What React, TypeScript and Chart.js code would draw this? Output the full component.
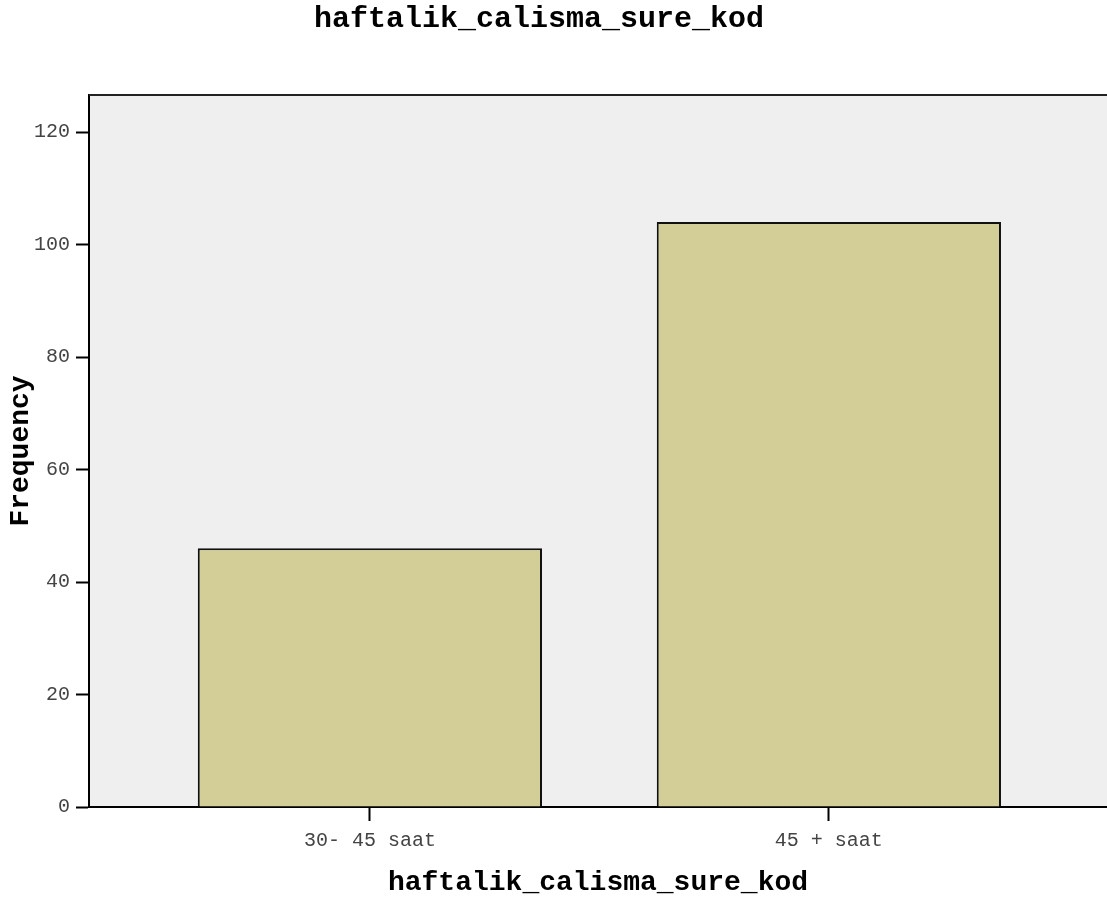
import React, { useEffect, useRef } from "react";
import { Chart, registerables } from "chart.js";

Chart.register(...registerables);

const chartTitle = "haftalik_calisma_sure_kod";
const categories = ["30- 45 saat", "45 + saat"];
const frequencies = [46, 104];
const yTickValues = [0, 20, 40, 60, 80, 100, 120];
const xAxisTitle = "haftalik_calisma_sure_kod";
const yAxisTitle = "Frequency";

const MONO = '"Liberation Mono", "DejaVu Sans Mono", monospace';

export default function App() {
  const ref = useRef<HTMLCanvasElement | null>(null);

  useEffect(() => {
    const canvas = ref.current;
    if (!canvas) return;
    const positions = categories.map((_, i) => i + 1);

    const framePlugin = {
      id: "frame",
      beforeDraw(chart: any) {
        const { ctx, chartArea: a } = chart;
        ctx.save();
        ctx.fillStyle = "#EFEFEF";
        ctx.fillRect(a.left, a.top, a.right - a.left, a.bottom - a.top);
        ctx.restore();
      },
      afterDraw(chart: any) {
        const { ctx, chartArea: a } = chart;
        ctx.save();
        ctx.strokeStyle = "#222";
        ctx.lineWidth = 2;
        ctx.beginPath();
        ctx.moveTo(a.left, a.top);
        ctx.lineTo(a.right, a.top);
        ctx.stroke();
        ctx.fillStyle = "#000";
        ctx.font = `bold 30px ${MONO}`;
        ctx.textAlign = "center";
        ctx.textBaseline = "alphabetic";
        ctx.fillText(chartTitle, 539, 27);
        ctx.restore();
      },
    };

    const chart = new Chart(canvas, {
      type: "bar",
      data: {
        datasets: [
          {
            data: positions.map((x, i) => ({ x, y: frequencies[i] })),
            backgroundColor: "rgb(211,206,152)",
            borderColor: "#111",
            borderWidth: 2,
            barPercentage: 0.75,
            categoryPercentage: 1,
          },
        ],
      },
      options: {
        responsive: false,
        animation: false,
        devicePixelRatio: 1,
        layout: { padding: { top: 95, left: 0, right: 0, bottom: 0 } },
        plugins: {
          legend: { display: false },
          tooltip: { enabled: false },
          title: { display: false },
        },
        scales: {
          x: {
            type: "linear",
            offset: false,
            min: 0.388,
            max: 2.606,
            afterBuildTicks: (s: any) => {
              s.ticks = positions.map((v) => ({ value: v }));
            },
            afterFit: (s: any) => {
              s.height = 94;
            },
            ticks: {
              callback: (v: any) => categories[Math.round(Number(v)) - 1] ?? "",
              font: { family: MONO, size: 20 },
              color: "#444",
              padding: 8,
              maxRotation: 0,
              autoSkip: false,
            },
            grid: {
              offset: false,
              drawOnChartArea: false,
              tickLength: 14,
              tickColor: "#000",
              tickWidth: 2,
            },
            border: { color: "#000", width: 2 },
            title: {
              display: true,
              text: xAxisTitle,
              font: { family: MONO, size: 28, weight: "bold" },
              color: "#000",
              padding: { top: 0, bottom: 1 },
            },
          },
          y: {
            type: "linear",
            min: 0,
            max: 126.6,
            afterBuildTicks: (s: any) => {
              s.ticks = yTickValues.map((v) => ({ value: v }));
            },
            afterFit: (s: any) => {
              s.width = 89;
            },
            ticks: {
              font: { family: MONO, size: 20 },
              color: "#444",
              padding: 6,
            },
            grid: {
              drawOnChartArea: false,
              tickLength: 13,
              tickColor: "#000",
              tickWidth: 2,
            },
            border: { color: "#000", width: 2 },
            title: {
              display: true,
              text: yAxisTitle,
              font: { family: MONO, size: 28, weight: "bold" },
              color: "#000",
              padding: { top: 4, bottom: 0 },
            },
          },
        },
      },
      plugins: [framePlugin],
    } as any);

    return () => chart.destroy();
  }, []);

  return (
    <canvas
      ref={ref}
      width={1107}
      height={901}
      style={{ position: "absolute", left: 0, top: 0, display: "block", width: 1107, height: 901 }}
    />
  );
}
